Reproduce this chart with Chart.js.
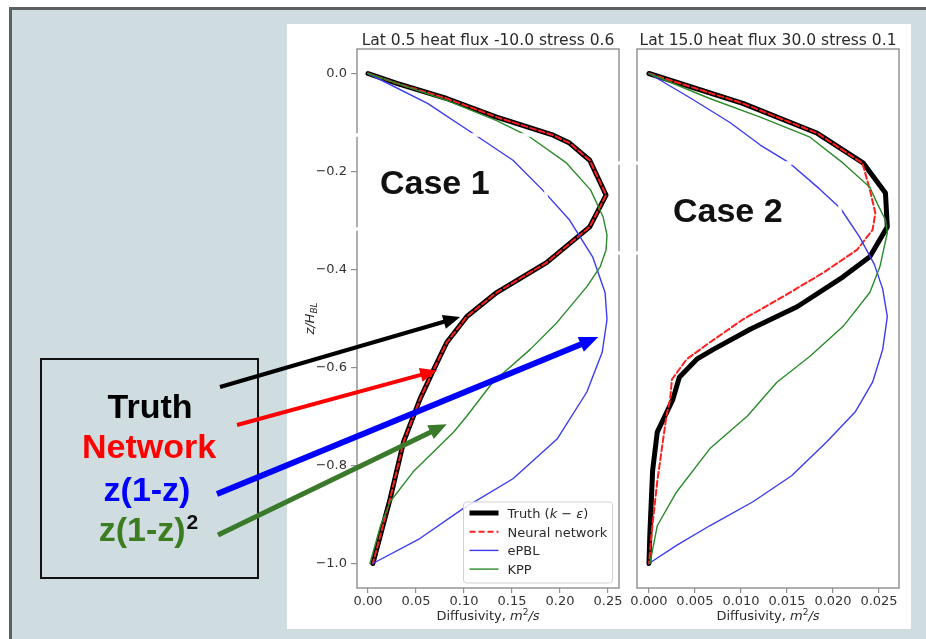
<!DOCTYPE html>
<html>
<head>
<meta charset="utf-8">
<title>Diffusivity profiles</title>
<script src="https://cdn.jsdelivr.net/npm/chart.js@4.4.0/dist/chart.umd.min.js"></script>
<style>
  html, body { margin: 0; padding: 0; background: #ffffff; }
  body { width: 926px; height: 639px; position: relative; overflow: hidden; }
  #slide { position: absolute; left: 9px; top: 7px; width: 940px; height: 650px;
           background: #cfdde1; border-left: 3px solid #5c6062; border-top: 3px solid #5c6062; }
  #panel { position: absolute; left: 287px; top: 24px; width: 624px; height: 605px; background: #ffffff; }
  canvas { position: absolute; top: 0; }
  #case1 { left: 0; }
  #case2 { left: 626px; }
</style>
</head>
<body>
<div id="slide"></div>
<div id="panel"></div>
<canvas id="case1" width="626" height="639"></canvas>
<canvas id="case2" width="300" height="639"></canvas>
<script>
// ---- data ----
const caseTitles = ['Lat 0.5 heat flux -10.0 stress 0.6', 'Lat 15.0 heat flux 30.0 stress 0.1'];
const seriesNames = ['Truth (k \u2212 \u03b5)', 'Neural network', 'ePBL', 'KPP'];
const keyNames = ['Truth', 'Network', 'z(1-z)', 'z(1-z)'];
const caseNames = ['Case 1', 'Case 2'];

const yTickValues = [0, -0.2, -0.4, -0.6, -0.8, -1.0];
const xTickValues1 = [0, 0.05, 0.10, 0.15, 0.20, 0.25];
const xTickValues2 = [0, 0.005, 0.010, 0.015, 0.020, 0.025];

// case 1: depth z/H and diffusivity
const zTruth1 = [0, -0.02, -0.051, -0.089, -0.126, -0.142, -0.177, -0.248, -0.313, -0.386, -0.447, -0.496, -0.549, -0.61, -0.665, -0.752, -0.868, -1.0];
const kTruth1 = [0, 0.03, 0.082, 0.134, 0.193, 0.21, 0.231, 0.248, 0.231, 0.186, 0.134, 0.103, 0.082, 0.067, 0.054, 0.037, 0.023, 0.005];
const zNet1 = [0, -0.02, -0.051, -0.089, -0.126, -0.142, -0.177, -0.248, -0.313, -0.386, -0.447, -0.496, -0.549, -0.61, -0.665, -0.752, -0.868, -1.0];
const kNet1 = [0, 0.03, 0.082, 0.134, 0.193, 0.21, 0.231, 0.248, 0.231, 0.186, 0.134, 0.103, 0.082, 0.067, 0.054, 0.037, 0.023, 0.005];
const zEpbl1 = [0, -0.061, -0.122, -0.177, -0.238, -0.299, -0.374, -0.447, -0.502, -0.569, -0.65, -0.746, -0.827, -0.888, -0.949, -1.0];
const kEpbl1 = [0, 0.062, 0.109, 0.151, 0.182, 0.21, 0.234, 0.247, 0.249, 0.244, 0.228, 0.197, 0.151, 0.099, 0.054, 0.005];
const zKpp1 = [0, -0.055, -0.096, -0.13, -0.183, -0.238, -0.293, -0.33, -0.36, -0.394, -0.435, -0.508, -0.563, -0.63, -0.699, -0.732, -0.813, -0.874, -0.923, -1.0];
const kKpp1 = [0, 0.082, 0.134, 0.169, 0.207, 0.232, 0.245, 0.249, 0.248, 0.242, 0.228, 0.197, 0.169, 0.13, 0.103, 0.089, 0.047, 0.023, 0.013, 0.002];

// case 2
const zTruth2 = [0, -0.061, -0.122, -0.183, -0.244, -0.313, -0.374, -0.415, -0.476, -0.522, -0.563, -0.583, -0.62, -0.665, -0.732, -0.81, -0.938, -1.0];
const kTruth2 = [0, 0.0102, 0.0183, 0.0233, 0.0257, 0.0259, 0.024, 0.0211, 0.0161, 0.011, 0.007, 0.0052, 0.0033, 0.0026, 0.0009, 0.0004, 0.0001, 0];
const zNet2 = [0, -0.061, -0.122, -0.183, -0.237, -0.285, -0.319, -0.36, -0.407, -0.455, -0.502, -0.549, -0.583, -0.624, -0.665, -0.699, -0.752, -0.833, -0.935, -1.0];
const kNet2 = [0, 0.0102, 0.0183, 0.0232, 0.024, 0.0246, 0.0243, 0.0226, 0.0189, 0.0146, 0.0102, 0.0066, 0.0041, 0.0025, 0.0023, 0.0019, 0.0015, 0.0009, 0.0003, 0];
const zEpbl2 = [0, -0.05, -0.1, -0.146, -0.183, -0.235, -0.275, -0.334, -0.39, -0.44, -0.496, -0.563, -0.63, -0.691, -0.752, -0.821, -0.874, -0.923, -0.963, -1.0];
const kEpbl2 = [0, 0.0045, 0.0088, 0.0121, 0.0153, 0.0185, 0.0208, 0.0229, 0.0245, 0.0254, 0.0259, 0.0254, 0.0243, 0.0224, 0.0193, 0.0155, 0.0113, 0.0066, 0.003, 0];
const zKpp2 = [0, -0.051, -0.089, -0.13, -0.183, -0.232, -0.265, -0.299, -0.325, -0.394, -0.447, -0.516, -0.577, -0.63, -0.699, -0.766, -0.854, -0.923, -1.0];
const kKpp2 = [0, 0.0066, 0.0121, 0.0175, 0.0211, 0.024, 0.0248, 0.0257, 0.0259, 0.0251, 0.024, 0.0211, 0.0175, 0.0139, 0.0107, 0.0066, 0.003, 0.0009, 0.0001];

// ---- styles ----
const SANS = "'DejaVu Sans', sans-serif";
const ARIAL = "'Liberation Sans', Arial, sans-serif";
const TEXT = '#2a2a2a';

const lineStyles = [
  { borderColor: '#000000', borderWidth: 5, order: 4 },
  { borderColor: '#ff1f1f', borderWidth: 2, borderDash: [6, 3], order: 3 },
  { borderColor: '#3b3bf0', borderWidth: 1.4, order: 2 },
  { borderColor: '#2b8a2b', borderWidth: 1.4, order: 1 }
];

const keyColors = ['#000000', '#ff0000', '#0000ff', '#3c7d22'];

// arrows from the key box to the case 1 curves (tip in data units)
const arrows = [
  { color: '#000000', width: 4, head: 17, tail: [220, 387], tip: [0.096, -0.497] },
  { color: '#ff0000', width: 4, head: 17, tail: [237, 425], tip: [0.072, -0.606] },
  { color: '#0000ff', width: 6, head: 19, tail: [217, 494], tip: [0.240, -0.538] },
  { color: '#3a7a2a', width: 5, head: 18, tail: [218, 535], tip: [0.082, -0.716] }
];

// white borders of the "Case" text boxes, they cut through whatever is below
const boxEdges = [
  [[350, 135], [533, 135]],
  [[546, 165], [546, 229]],
  [[350, 229], [546, 229]],
  [[614, 163], [834, 163]],
  [[840, 176], [840, 253]],
  [[614, 253], [840, 253]]
];

function points(ks, zs) {
  return ks.map((k, i) => ({ x: k, y: zs[i] }));
}

function runs(ctx, parts, x, y, align) {
  let w = 0;
  parts.forEach(p => { ctx.font = p[1]; w += ctx.measureText(p[0]).width; });
  let cx = align === 'center' ? x - w / 2 : x;
  parts.forEach(p => {
    ctx.font = p[1];
    ctx.fillText(p[0], cx, y + (p[2] || 0));
    cx += ctx.measureText(p[0]).width;
  });
}

function drawEdges(ctx, offsetX) {
  ctx.save();
  ctx.strokeStyle = '#ffffff';
  ctx.lineWidth = 3.5;
  boxEdges.forEach(e => {
    ctx.beginPath();
    ctx.moveTo(e[0][0] - offsetX, e[0][1]);
    ctx.lineTo(e[1][0] - offsetX, e[1][1]);
    ctx.stroke();
  });
  ctx.restore();
}

function drawCaseLabel(ctx, text, x, y) {
  ctx.save();
  ctx.fillStyle = '#111111';
  ctx.textAlign = 'left';
  ctx.textBaseline = 'alphabetic';
  ctx.font = `bold 34px ${ARIAL}`;
  ctx.fillText(text, x, y);
  ctx.restore();
}

// frame, title, axis labels and legend drawn the matplotlib way
const panelDecor = {
  id: 'panelDecor',
  afterDatasetsDraw(chart, args, opts) {
    const { ctx, chartArea: a } = chart;
    ctx.save();
    ctx.strokeStyle = '#8e8e8e';
    ctx.lineWidth = 1.4;
    ctx.strokeRect(a.left, a.top, a.right - a.left, a.bottom - a.top);

    ctx.fillStyle = TEXT;
    ctx.textAlign = 'left';
    ctx.textBaseline = 'alphabetic';
    const cx = (a.left + a.right) / 2;
    runs(ctx, [[opts.title, `15.5px ${SANS}`]], cx, a.top - 4, 'center');
    runs(ctx, [
      ['Diffusivity, ', `13px ${SANS}`],
      ['m', `italic 13px ${SANS}`],
      ['2', `9px ${SANS}`, -5],
      ['/s', `italic 13px ${SANS}`]
    ], cx, 620, 'center');

    if (opts.yLabel) {
      ctx.save();
      ctx.translate(a.left - 43, (a.top + a.bottom) / 2);
      ctx.rotate(-Math.PI / 2);
      runs(ctx, [['z/H', `italic 13px ${SANS}`], ['BL', `italic 9px ${SANS}`, 3]], 0, 0, 'center');
      ctx.restore();
    }

    if (opts.legend) {
      const w = 149, h = 81;
      const right = a.right - 6.5, bottom = a.bottom - 5;
      const left = right - w, top = bottom - h;
      ctx.fillStyle = 'rgba(255,255,255,0.85)';
      ctx.strokeStyle = '#d2d2d2';
      ctx.lineWidth = 1;
      ctx.beginPath();
      ctx.roundRect(left, top, w, h, 3);
      ctx.fill();
      ctx.stroke();
      chart.data.datasets.forEach((ds, i) => {
        const y = top + 11 + i * 18.7;
        ctx.strokeStyle = ds.borderColor;
        ctx.lineWidth = ds.borderWidth;
        ctx.setLineDash(ds.borderDash || []);
        ctx.beginPath();
        ctx.moveTo(left + 6, y);
        ctx.lineTo(left + 35, y);
        ctx.stroke();
        ctx.setLineDash([]);
        ctx.fillStyle = TEXT;
        const n = `13px ${SANS}`, it = `italic 13px ${SANS}`;
        const parts = i === 0
          ? [['Truth (', n], ['k', it], [' \u2212 ', n], ['\u03b5', it], [')', n]]
          : [[ds.label, n]];
        runs(ctx, parts, left + 44, y + 5, 'left');
      });
    }
    ctx.restore();
  },
  afterDraw(chart, args, opts) {
    if (opts.after) opts.after(chart);
  }
};

function axisX(min, max, ticks, digits) {
  return {
    type: 'linear', position: 'bottom', min, max,
    afterBuildTicks: s => { s.ticks = ticks.map(v => ({ value: v })); },
    afterFit: s => { s.height = 30; },
    ticks: {
      autoSkip: false, maxRotation: 0, padding: 1, color: '#333333',
      font: { family: 'DejaVu Sans', size: 13 },
      callback: v => v.toFixed(digits)
    },
    grid: { display: true, drawOnChartArea: false, drawTicks: true, tickLength: 5, color: '#8e8e8e', lineWidth: 1.2 },
    border: { display: false }
  };
}

function axisY(show) {
  return {
    type: 'linear', position: 'left', min: -1.05, max: 0.05, display: show,
    afterBuildTicks: s => { s.ticks = yTickValues.map(v => ({ value: v })); },
    afterFit: s => { s.width = show ? 40 : 0; },
    ticks: {
      padding: 4, color: '#333333',
      font: { family: 'DejaVu Sans', size: 13 },
      callback: v => (v < 0 ? '\u2212' : '') + Math.abs(v).toFixed(1)
    },
    grid: { display: true, drawOnChartArea: false, drawTicks: true, tickLength: 6, color: '#8e8e8e', lineWidth: 1.2 },
    border: { display: false }
  };
}

function buildDatasets(series) {
  return series.map((pts, i) => Object.assign({
    label: seriesNames[i],
    data: pts,
    showLine: true,
    pointRadius: 0,
    tension: 0,
    borderJoinStyle: 'round',
    borderCapStyle: 'round',
    fill: false
  }, lineStyles[i]));
}

function drawKey(chart) {
  const ctx = chart.ctx;
  const x = chart.scales.x, y = chart.scales.y;
  ctx.save();
  ctx.strokeStyle = '#111111';
  ctx.lineWidth = 2;
  ctx.strokeRect(41, 359, 217, 219);

  ctx.textAlign = 'left';
  ctx.textBaseline = 'alphabetic';
  const bold = `bold 34px ${ARIAL}`;
  ctx.fillStyle = keyColors[0];
  runs(ctx, [[keyNames[0], bold]], 150, 418, 'center');
  ctx.fillStyle = keyColors[1];
  runs(ctx, [[keyNames[1], bold]], 149, 458, 'center');
  ctx.fillStyle = keyColors[2];
  runs(ctx, [[keyNames[2], bold]], 147, 501, 'center');
  // z(1-z) squared: green body, black exponent
  ctx.font = bold;
  const w1 = ctx.measureText(keyNames[3]).width;
  ctx.font = `bold 21px ${ARIAL}`;
  const w2 = ctx.measureText('2').width;
  const left = 148 - (w1 + w2) / 2;
  ctx.fillStyle = keyColors[3];
  ctx.font = bold;
  ctx.fillText(keyNames[3], left, 541);
  ctx.fillStyle = '#111111';
  ctx.font = `bold 21px ${ARIAL}`;
  ctx.fillText('2', left + w1 + 1, 529);

  arrows.forEach(a => {
    const fx = a.tail[0], fy = a.tail[1];
    const tx = x.getPixelForValue(a.tip[0]), ty = y.getPixelForValue(a.tip[1]);
    const ang = Math.atan2(ty - fy, tx - fx);
    const c = Math.cos(ang), s = Math.sin(ang);
    const bx = tx - a.head * c, by = ty - a.head * s;
    const hw = a.head * 0.42;
    ctx.strokeStyle = a.color;
    ctx.fillStyle = a.color;
    ctx.lineWidth = a.width;
    ctx.lineCap = 'butt';
    ctx.beginPath();
    ctx.moveTo(fx, fy);
    ctx.lineTo(bx + c, by + s);
    ctx.stroke();
    ctx.beginPath();
    ctx.moveTo(tx, ty);
    ctx.lineTo(bx + hw * s, by - hw * c);
    ctx.lineTo(bx - hw * s, by + hw * c);
    ctx.closePath();
    ctx.fill();
  });
  ctx.restore();
}

function makeChart(id, title, series, xAxis, showY, padding, extra) {
  return new Chart(document.getElementById(id), {
    type: 'scatter',
    data: { datasets: buildDatasets(series) },
    options: {
      responsive: false,
      devicePixelRatio: 1,
      animation: false,
      events: [],
      layout: { padding },
      scales: { x: xAxis, y: axisY(showY) },
      plugins: {
        legend: { display: false },
        tooltip: { enabled: false },
        panelDecor: { title, legend: showY, yLabel: showY, after: extra }
      }
    },
    plugins: [panelDecor]
  });
}

makeChart('case1', caseTitles[0], [
  points(kTruth1, zTruth1),
  points(kNet1, zNet1),
  points(kEpbl1, zEpbl1),
  points(kKpp1, zKpp1)
], axisX(-0.0115, 0.2615, xTickValues1, 2), true,
  { left: 317, right: 7, top: 49, bottom: 21 },
  chart => {
    drawEdges(chart.ctx, 0);
    drawCaseLabel(chart.ctx, caseNames[0], 380, 194);
    drawKey(chart);
  });

makeChart('case2', caseTitles[1], [
  points(kTruth2, zTruth2),
  points(kNet2, zNet2),
  points(kEpbl2, zEpbl2),
  points(kKpp2, zKpp2)
], axisX(-0.0013, 0.02717, xTickValues2, 3), false,
  { left: 11, right: 27, top: 49, bottom: 21 },
  chart => {
    drawEdges(chart.ctx, 626);
    drawCaseLabel(chart.ctx, caseNames[1], 673 - 626, 222);
  });
</script>
</body>
</html>
